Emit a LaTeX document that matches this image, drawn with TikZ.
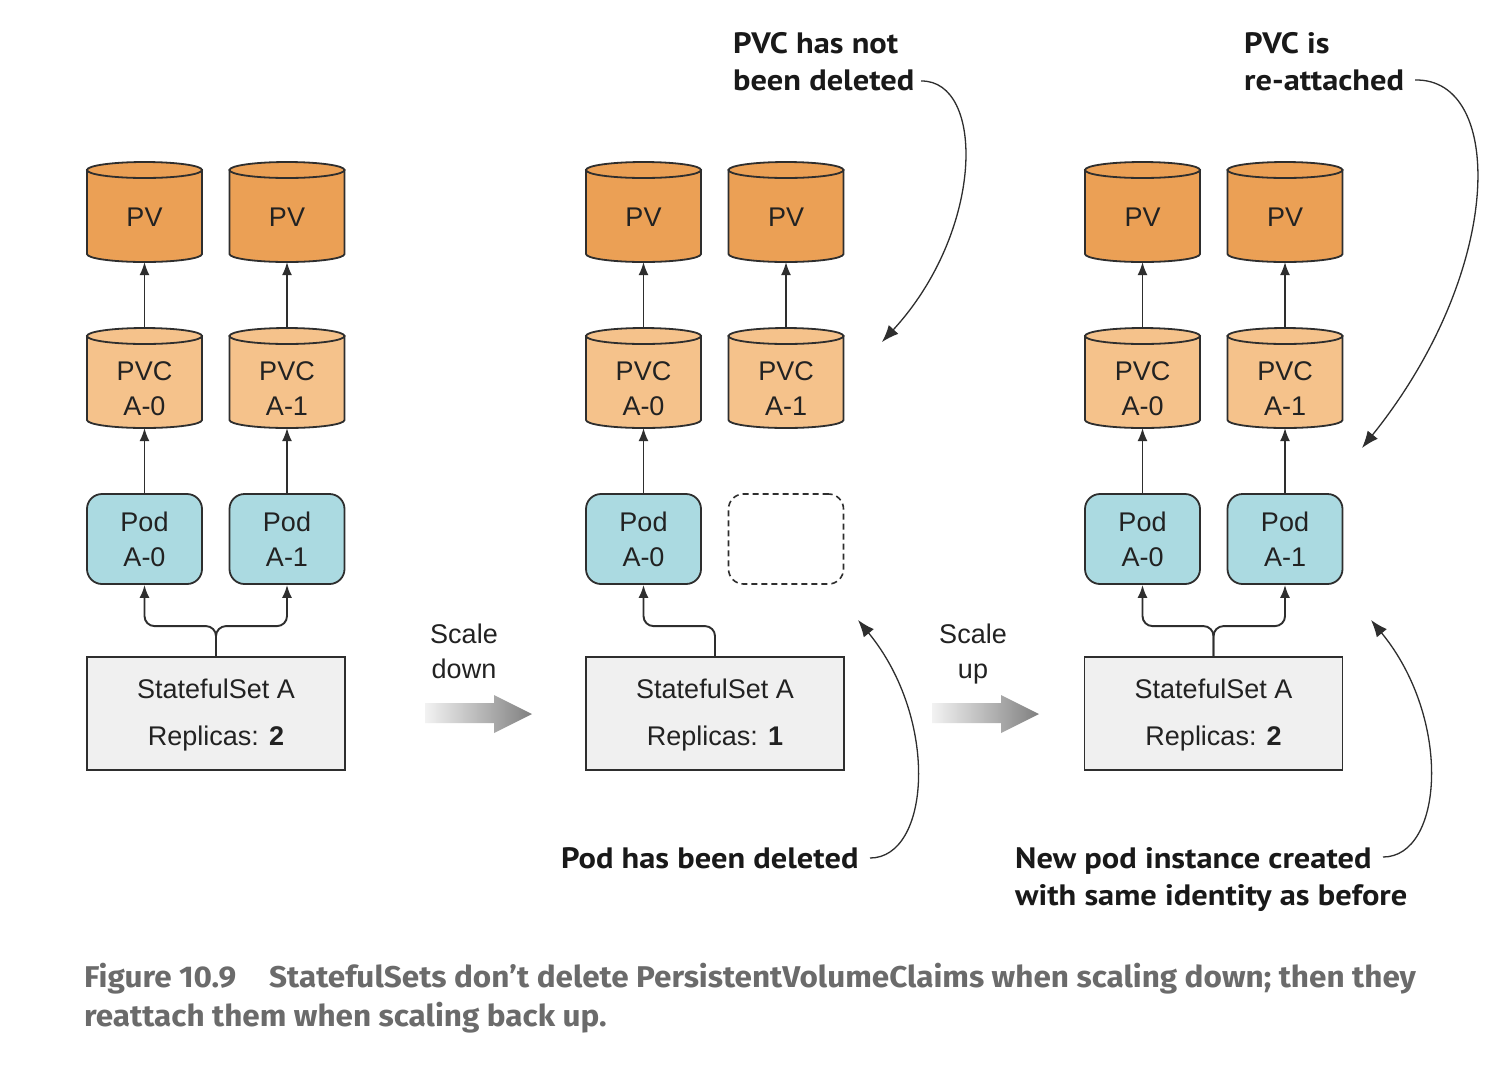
\documentclass[tikz,border=0pt]{standalone}
\usepackage{fontspec}
\setmainfont{Liberation Sans}
\newfontfamily\annfont[FakeStretch=1.10]{PT Sans}
\newfontfamily\capfont[FakeStretch=1.05]{Fira Sans}
\usetikzlibrary{arrows.meta}
\definecolor{pvcol}{HTML}{EBA055}
\definecolor{pvccol}{HTML}{F5C28B}
\definecolor{podcol}{HTML}{ABDAE1}
\definecolor{sscol}{HTML}{F0F0F0}
\definecolor{linecol}{HTML}{2E2E2E}
\definecolor{txtcol}{HTML}{222222}
\definecolor{capcol}{HTML}{6B6B6B}
\tikzset{
  cylnode/.style={minimum width=115pt, minimum height=100pt, inner sep=0pt, outer sep=0pt, draw=none},
  cylline/.style={draw=linecol, line width=1.8pt},
  lbl/.style={font=\fontsize{27}{35}\selectfont, text=txtcol, align=center, inner sep=0pt},
  podbox/.style={draw=linecol, line width=1.8pt, fill=podcol, rounded corners=15pt, minimum width=115pt, minimum height=90pt, inner sep=0pt, align=center, font=\fontsize{27}{35}\selectfont, text=txtcol},
  ghostbox/.style={draw=linecol, line width=1.6pt, dash pattern=on 6pt off 4pt, rounded corners=15pt, minimum width=115pt, minimum height=90pt, inner sep=0pt},
  ssbox/.style={draw=linecol, line width=1.8pt, fill=sscol, minimum width=258pt, minimum height=113pt, inner sep=0pt},
  sstext/.style={align=center, font=\fontsize{27}{47}\selectfont, text=txtcol, inner sep=0pt},
  conn/.style={draw=linecol, line width=1.9pt, -{Latex[length=13pt, width=10pt]}},
  ann/.style={draw=linecol, line width=1.3pt, -{Latex[length=17pt, width=13pt]}},
  anntext/.style={font=\annfont\bfseries\fontsize{29.5}{37}\selectfont, text=black!90, align=left, inner sep=0pt, anchor=base west},
  captext/.style={font=\capfont\bfseries\fontsize{30}{39}\selectfont, text=capcol, inner sep=0pt, anchor=base west},
  scaletext/.style={font=\fontsize{27}{35}\selectfont, text=txtcol, align=center, inner sep=0pt, anchor=base},
}
% cylinder: #1 name, #2 centre x, #3 top y, #4 colour
\newcommand\drawcyl[4]{%
  \node[cylnode] (#1) at (#2,#3+50) {};
  \draw[cylline, fill=#4] (#2-57.5,#3+8) -- (#2-57.5,#3+92)
     .. controls (#2-57.5,#3+96.4) and (#2-31.8,#3+100) .. (#2,#3+100)
     .. controls (#2+31.8,#3+100) and (#2+57.5,#3+96.4) .. (#2+57.5,#3+92)
     -- (#2+57.5,#3+8) -- cycle;
  \draw[cylline, fill=#4] (#2,#3+8) ellipse [x radius=57.5pt, y radius=8pt];
}
\newcommand\scalearrow[1]{%
  \shade[left color=black!5, right color=black!50] (#1,703) -- (#1+69,703) -- (#1+69,695) -- (#1+107,714) -- (#1+69,733) -- (#1+69,723) -- (#1,723) -- cycle;
}
\begin{document}
\begin{tikzpicture}[x=1pt,y=-1pt]
\useasboundingbox (0,0) rectangle (1488,1072);
\fill[white] (0,0) rectangle (1488,1072);

% ---------- group 1 ----------
\drawcyl{pv1a}{144.5}{162}{pvcol}
\drawcyl{pv1b}{287}{162}{pvcol}
\drawcyl{pvc1a}{144.5}{328}{pvccol}
\drawcyl{pvc1b}{287}{328}{pvccol}
\node[lbl] (pv1at) at (144.5,217) {PV};
\node[lbl] (pv1bt) at (287,217) {PV};
\node[lbl] (pvc1at) at (144.5,389) {PVC\\A-0};
\node[lbl] (pvc1bt) at (287,389) {PVC\\A-1};
\node[podbox] (pod1a) at (144.5,539) {Pod\\A-0};
\node[podbox] (pod1b) at (287,539) {Pod\\A-1};
\node[ssbox] (ss1) at (216,713.5) {};
\node[sstext] (ss1t) at (216,715.5) {StatefulSet A\\Replicas: \textbf{2}};
\draw[conn] (pvc1a.north) -- (pv1a.south);
\draw[conn] (pvc1b.north) -- (pv1b.south);
\draw[conn] (pod1a.north) -- (pvc1a.south);
\draw[conn] (pod1b.north) -- (pvc1b.south);
\draw[conn, rounded corners=10pt] (ss1.north) -- ++(0,-30) -| (pod1a.south);
\draw[conn, rounded corners=10pt] (ss1.north) -- ++(0,-30) -| (pod1b.south);

% ---------- scale down ----------
\node[scaletext] (sdown) at (464,678) {Scale\\down};
\scalearrow{425}

% ---------- group 2 ----------
\drawcyl{pv2a}{643.5}{162}{pvcol}
\drawcyl{pv2b}{786}{162}{pvcol}
\drawcyl{pvc2a}{643.5}{328}{pvccol}
\drawcyl{pvc2b}{786}{328}{pvccol}
\node[lbl] (pv2at) at (643.5,217) {PV};
\node[lbl] (pv2bt) at (786,217) {PV};
\node[lbl] (pvc2at) at (643.5,389) {PVC\\A-0};
\node[lbl] (pvc2bt) at (786,389) {PVC\\A-1};
\node[podbox] (pod2a) at (643.5,539) {Pod\\A-0};
\node[ghostbox] (pod2b) at (786,539) {};
\node[ssbox] (ss2) at (715,713.5) {};
\node[sstext] (ss2t) at (715,715.5) {StatefulSet A\\Replicas: \textbf{1}};
\draw[conn] (pvc2a.north) -- (pv2a.south);
\draw[conn] (pvc2b.north) -- (pv2b.south);
\draw[conn] (pod2a.north) -- (pvc2a.south);
\draw[conn, rounded corners=10pt] (ss2.north) -- ++(0,-30) -| (pod2a.south);

% ---------- scale up ----------
\node[scaletext] (sup1) at (973,678) {Scale\\up};
\scalearrow{932}

% ---------- group 3 ----------
\drawcyl{pv3a}{1142.5}{162}{pvcol}
\drawcyl{pv3b}{1285}{162}{pvcol}
\drawcyl{pvc3a}{1142.5}{328}{pvccol}
\drawcyl{pvc3b}{1285}{328}{pvccol}
\node[lbl] (pv3at) at (1142.5,217) {PV};
\node[lbl] (pv3bt) at (1285,217) {PV};
\node[lbl] (pvc3at) at (1142.5,389) {PVC\\A-0};
\node[lbl] (pvc3bt) at (1285,389) {PVC\\A-1};
\node[podbox] (pod3a) at (1142.5,539) {Pod\\A-0};
\node[podbox] (pod3b) at (1285,539) {Pod\\A-1};
\node[ssbox] (ss3) at (1213.5,713.5) {};
\node[sstext] (ss3t) at (1213.5,715.5) {StatefulSet A\\Replicas: \textbf{2}};
\draw[conn] (pvc3a.north) -- (pv3a.south);
\draw[conn] (pvc3b.north) -- (pv3b.south);
\draw[conn] (pod3a.north) -- (pvc3a.south);
\draw[conn] (pod3b.north) -- (pvc3b.south);
\draw[conn, rounded corners=10pt] (ss3.north) -- ++(0,-30) -| (pod3a.south);
\draw[conn, rounded corners=10pt] (ss3.north) -- ++(0,-30) -| (pod3b.south);

% ---------- annotations ----------
\node[anntext] (note1) at (733,90) {PVC has not\\been deleted};
\node[anntext] (note2) at (1244,90) {PVC is\\re-attached};
\node[anntext] (note3) at (561,868) {Pod has been deleted};
\node[anntext] (note4) at (1015,905) {New pod instance created\\with same identity as before};

\coordinate (n1s) at (921,81);   \coordinate (n1e) at (882,342);
\coordinate (n2s) at (1415,80);  \coordinate (n2e) at (1362,448);
\coordinate (n3s) at (870,858);  \coordinate (n3e) at (858,620);
\coordinate (n4s) at (1383,857); \coordinate (n4e) at (1371,620);
\draw[ann] (n1s) .. controls (985,80) and (985,230) .. (n1e);
\draw[ann] (n2s) .. controls (1505,78) and (1505,270) .. (n2e);
\draw[ann] (n3s) .. controls (930,858) and (940,720) .. (n3e);
\draw[ann] (n4s) .. controls (1443,857) and (1453,720) .. (n4e);

% ---------- caption ----------
\node[captext] (cap1) at (84,987) {Figure 10.9\hspace{33pt}StatefulSets don’t delete PersistentVolumeClaims when scaling down; then they};
\node[captext] (cap2) at (84,1026) {reattach them when scaling back up.};
\end{tikzpicture}
\end{document}
